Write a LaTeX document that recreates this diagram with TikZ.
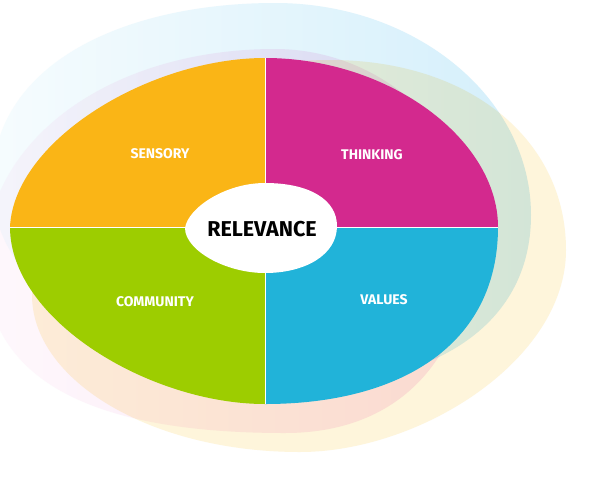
\documentclass[tikz,border=0pt]{standalone}
\usepackage{fontspec}
\setmainfont{Fira Sans}
\definecolor{sensory}{HTML}{FAB516}
\definecolor{thinking}{HTML}{D3298E}
\definecolor{community}{HTML}{9DCD00}
\definecolor{values}{HTML}{21B3D9}
\definecolor{bluelt}{HTML}{D4EFFB}
\definecolor{bluepale}{HTML}{F6FCFE}
\definecolor{pinkdk}{HTML}{FBE3F4}
\definecolor{pinkpale}{HTML}{FEF8FC}
\definecolor{yellowlt}{HTML}{FEF5DB}
\begin{document}
\begin{tikzpicture}[x=1pt,y=-1pt,
  seg/.style={draw=white,line width=0.8pt},
  label/.style={text=white,font=\bfseries\fontsize{14}{14}\selectfont,inner sep=0pt},
  centre/.style={text=black,font=\bfseries\fontsize{21.5}{22}\selectfont,inner sep=0pt}]
\useasboundingbox (0,0) rectangle (600,483);
\clip (0,0) rectangle (600,483);
\fill[white] (0,0) rectangle (600,483);
\begin{scope}[blend mode=multiply]
% light blue back shape
\shade[shading=axis,left color=bluepale,right color=bluelt]
  (275,3) .. controls (416,3) and (531,98) .. (531,215)
  .. controls (531,330) and (427,385) .. (300,385)
  .. controls (150,385) and (-8,300) .. (-8,185)
  .. controls (-8,60) and (130,3) .. (275,3) -- cycle;
% pale pink back shape
\shade[shading=axis,left color=pinkpale,right color=pinkdk]
  (275,49) .. controls (110,49) and (-15,140) .. (-15,262)
  .. controls (-15,395) and (120,433) .. (285,433)
  .. controls (410,433) and (472,345) .. (472,230)
  .. controls (472,130) and (380,49) .. (275,49) -- cycle;
% pale yellow back shape
\fill[yellowlt]
  (330,60) .. controls (470,60) and (566,140) .. (566,250)
  .. controls (566,360) and (420,452) .. (300,452)
  .. controls (150,452) and (32,380) .. (32,295)
  .. controls (32,150) and (180,60) .. (330,60) -- cycle;
\end{scope}
% four quadrants
\coordinate (C) at (265,227);
\coordinate (T) at (265,58);
\coordinate (R) at (498,227);
\coordinate (B) at (265,404);
\coordinate (L) at (10,227);
\fill[sensory] (L) .. controls (14,140) and (150,58) .. (T) -- (C) -- cycle;
\fill[thinking] (T) .. controls (390,58) and (498,140) .. (R) -- (C) -- cycle;
\fill[values] (R) .. controls (498,345) and (400,404) .. (B) -- (C) -- cycle;
\fill[community] (B) .. controls (150,404) and (10,320) .. (L) -- (C) -- cycle;
\draw[seg] (T) -- (B);
\draw[seg] (L) -- (R);
% centre
\fill[white] (185,228) .. controls (188,208) and (225,183) .. (265,183)
  .. controls (310,183) and (337,200) .. (337,226)
  .. controls (337,255) and (305,273) .. (265,273)
  .. controls (225,273) and (185,250) .. (185,228) -- cycle;
\node[centre] (rel) at (262,229) {RELEVANCE};
\node[label] (sen) at (160,154) {SENSORY};
\node[label] (thi) at (372,155) {THINKING};
\node[label] (com) at (155,302) {COMMUNITY};
\node[label] (val) at (384,300) {VALUES};
\end{tikzpicture}
\end{document}
